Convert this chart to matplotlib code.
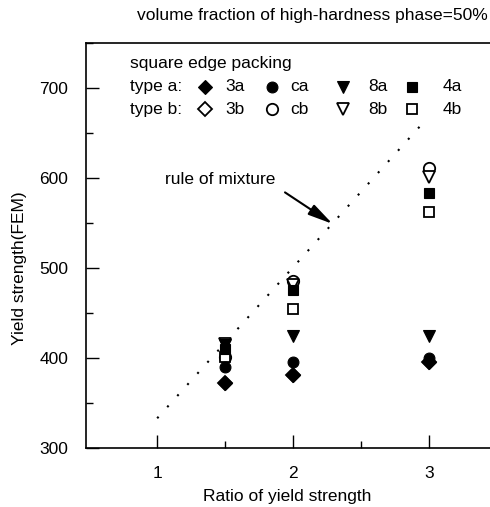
import matplotlib
matplotlib.use("Agg")
import matplotlib.pyplot as plt
from matplotlib.ticker import MultipleLocator, FixedLocator

plt.rcParams['font.family'] = ['Liberation Sans', 'DejaVu Sans']
plt.rcParams['font.size'] = 12.5

# ratio of yield strength (hard / soft phase)
ratio = [1.5, 2, 3]

# type a (filled markers)
ys_3a = [372, 381, 395]
ys_ca = [390, 396, 400]
ys_8a = [414, 424, 424]
ys_4a = [410, 476, 583]

# type b (open markers)
ys_3b = [372, 381, 395]
ys_cb = [401, 485, 611]
ys_8b = [416, 481, 601]
ys_4b = [401, 454, 562]

# rule of mixture line
rom_x = [1.0, 2.93]
rom_y = [333, 657]

names_a = ['3a', 'ca', '8a', '4a']
names_b = ['3b', 'cb', '8b', '4b']
markers = ['D', 'o', 'v', 's']
sizes_a = [7.0, 7.8, 8.8, 7.0]
sizes_b = [6.8, 8.2, 9.2, 6.6]

fig = plt.figure(figsize=(4.9, 5.07), dpi=100)
ax = fig.add_axes([0.1765, 0.1164, 0.838, 0.7988])

ax.plot(rom_x, rom_y, color='k', lw=1.5, linestyle=(0, (1, 6.2)))

# open markers first, filled ones drawn over them
for ys, m, s in zip([ys_3b, ys_cb, ys_8b, ys_4b], markers, sizes_b):
    ax.plot(ratio, ys, linestyle='none', marker=m, ms=s, mfc='white',
            mec='k', mew=1.3, zorder=3)
for ys, m, s in zip([ys_3a, ys_ca, ys_8a, ys_4a], markers, sizes_a):
    ax.plot(ratio, ys, linestyle='none', marker=m, ms=s, mfc='k',
            mec='k', mew=0.8, zorder=4)

ax.annotate('', xy=(2.29, 549), xytext=(1.94, 584),
            arrowprops=dict(arrowstyle='-|>,head_length=1.5,head_width=0.35',
                            color='k', lw=1.5, mutation_scale=10,
                            shrinkA=0, shrinkB=0))
ax.text(1.055, 598, 'rule of mixture', ha='left', va='center')

# legend drawn by hand
ax.text(0.106, 0.9506, 'square edge packing', transform=ax.transAxes,
        ha='left', va='center')
ax.text(0.106, 0.8914, 'type a:', transform=ax.transAxes, ha='left', va='center')
ax.text(0.106, 0.837, 'type b:', transform=ax.transAxes, ha='left', va='center')
mx = [0.2885, 0.4517, 0.6245, 0.7926]
tx = [0.337, 0.4955, 0.6855, 0.868]
for i in range(4):
    ax.plot([mx[i]], [0.8914], transform=ax.transAxes, marker=markers[i],
            ms=sizes_a[i], mfc='k', mec='k', mew=0.8, clip_on=False)
    ax.plot([mx[i]], [0.837], transform=ax.transAxes, marker=markers[i],
            ms=sizes_b[i], mfc='white', mec='k', mew=1.3, clip_on=False)
    ax.text(tx[i], 0.8914, names_a[i], transform=ax.transAxes, ha='left', va='center')
    ax.text(tx[i], 0.837, names_b[i], transform=ax.transAxes, ha='left', va='center')

ax.set_xlim(0.48, 3.5)
ax.set_ylim(300, 750)
ax.xaxis.set_major_locator(FixedLocator([1, 2, 3]))
ax.xaxis.set_minor_locator(FixedLocator([1.5, 2.5]))
ax.yaxis.set_major_locator(FixedLocator([300, 400, 500, 600, 700]))
ax.yaxis.set_minor_locator(MultipleLocator(50))
ax.tick_params(which='both', direction='in', top=False, right=False, width=1.0)
ax.tick_params(which='major', length=9.4, pad=13)
ax.tick_params(which='minor', length=5)
for sp in ax.spines.values():
    sp.set_linewidth(1.2)

ax.set_xlabel('Ratio of yield strength')
ax.set_ylabel('Yield strength(FEM)')
ax.xaxis.set_label_coords(0.488, -0.121)
ax.xaxis.label.set_va('center')
ax.yaxis.set_label_coords(-0.164, 0.444)
ax.yaxis.label.set_va('center')
ax.yaxis.label.set_ha('center')

fig.text(0.996, 0.970, 'volume fraction of high-hardness phase=50%',
         ha='right', va='center')

fig.savefig('out.png', dpi=100)
